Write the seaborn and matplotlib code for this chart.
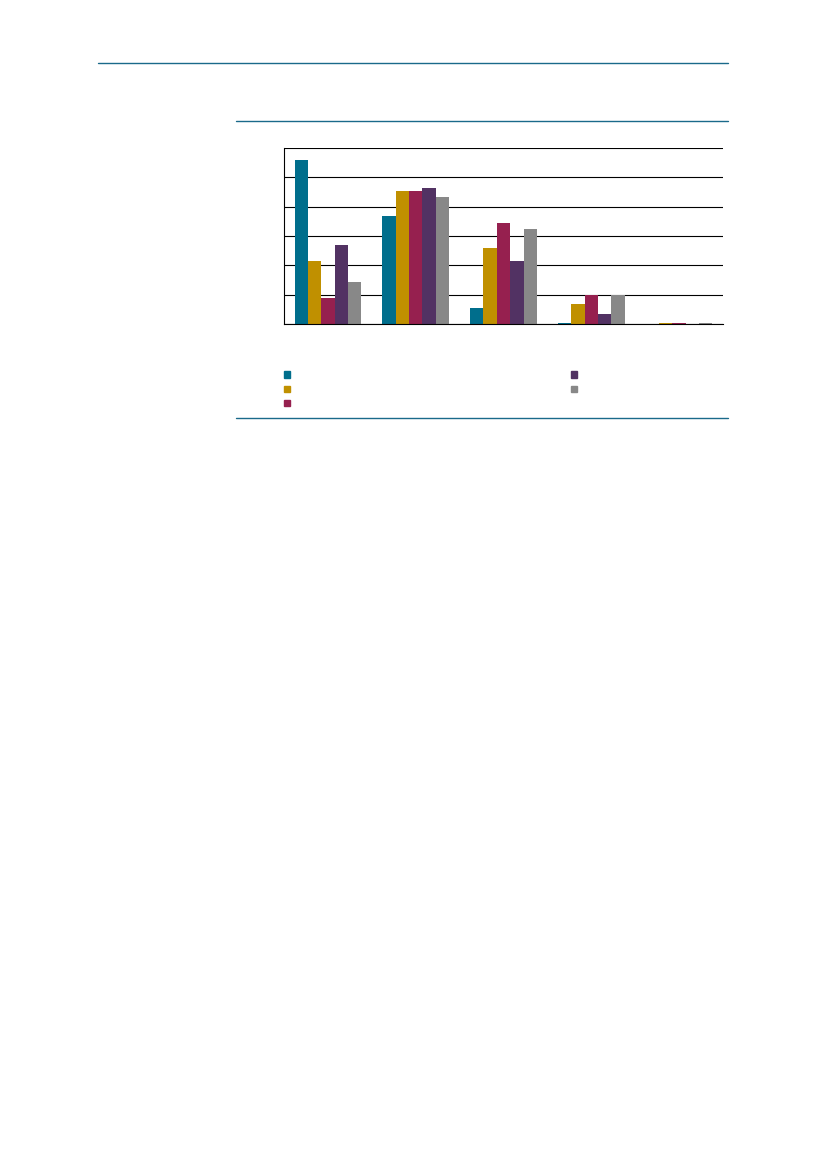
import pandas as pd
import seaborn as sns
import matplotlib.pyplot as plt
from matplotlib.lines import Line2D

# 資料 (由圖片估讀，單位 %)
categories = ["c1", "c2", "c3", "c4", "c5"]
series = ["s1", "s2", "s3", "s4", "s5"]
s1 = [56.0, 36.7, 5.6, 0.3, 0.0]
s2 = [21.6, 45.4, 26.0, 6.7, 0.3]
s3 = [8.8, 45.4, 34.5, 9.9, 0.3]
s4 = [27.1, 46.4, 21.6, 3.5, 0.0]
s5 = [14.2, 43.2, 32.5, 9.9, 0.3]
colors = ["#006E8C", "#C09000", "#96204F", "#523263", "#888888"]

rows = []
for name, vals in zip(series, [s1, s2, s3, s4, s5]):
    for cat, v in zip(categories, vals):
        rows.append({"category": cat, "series": name, "value": v})
df = pd.DataFrame(rows)

sns.set_style("white")
W, H = 827, 1169
fig = plt.figure(figsize=(8.27, 11.69), dpi=100)

# 頁面裝飾線
line_col = "#1A6A8A"
fig.add_artist(Line2D([98 / W, 728 / W], [1 - 63 / H] * 2, color=line_col, lw=1.0, transform=fig.transFigure))
fig.add_artist(Line2D([236 / W, 728 / W], [1 - 121 / H] * 2, color=line_col, lw=1.0, transform=fig.transFigure))
fig.add_artist(Line2D([236 / W, 728 / W], [1 - 418 / H] * 2, color=line_col, lw=1.0, transform=fig.transFigure))

ax = fig.add_axes([284 / W, 1 - 324 / H, (723 - 284) / W, (324 - 148) / H])
sns.barplot(data=df, x="category", y="value", hue="series", palette=colors,
            width=0.76, gap=0, ax=ax, legend=False, linewidth=0, saturation=1)

ax.set_ylim(0, 60)
ax.set_xlim(-0.5, 4.5)
ax.set_yticks(range(0, 61, 10))
ax.yaxis.grid(True, color="black", lw=0.8)
ax.set_axisbelow(True)
ax.tick_params(axis="y", length=0, labelleft=False)
ax.set_xticks([-0.5, 0.5, 1.5, 2.5, 3.5, 4.5])
ax.tick_params(axis="x", direction="in", length=4, width=0.8, color="black", labelbottom=False)
ax.set_xlabel("")
ax.set_ylabel("")
for s in ["top", "right"]:
    ax.spines[s].set_visible(False)
for s in ["left", "bottom"]:
    ax.spines[s].set_color("black")
    ax.spines[s].set_linewidth(0.8)

# 圖例 (無文字)
handles = [plt.Rectangle((0, 0), 1, 1, color=c) for c in colors]
fig.legend(handles, [" "] * 5, ncol=2, frameon=False, fontsize=7,
           loc="upper left", bbox_to_anchor=(284 / W, 1 - 370 / H),
           handlelength=0.6, handleheight=0.6, handletextpad=0.5,
           labelspacing=0.45, columnspacing=28.1, borderpad=0, borderaxespad=0)

fig.savefig("out.png", dpi=100)
